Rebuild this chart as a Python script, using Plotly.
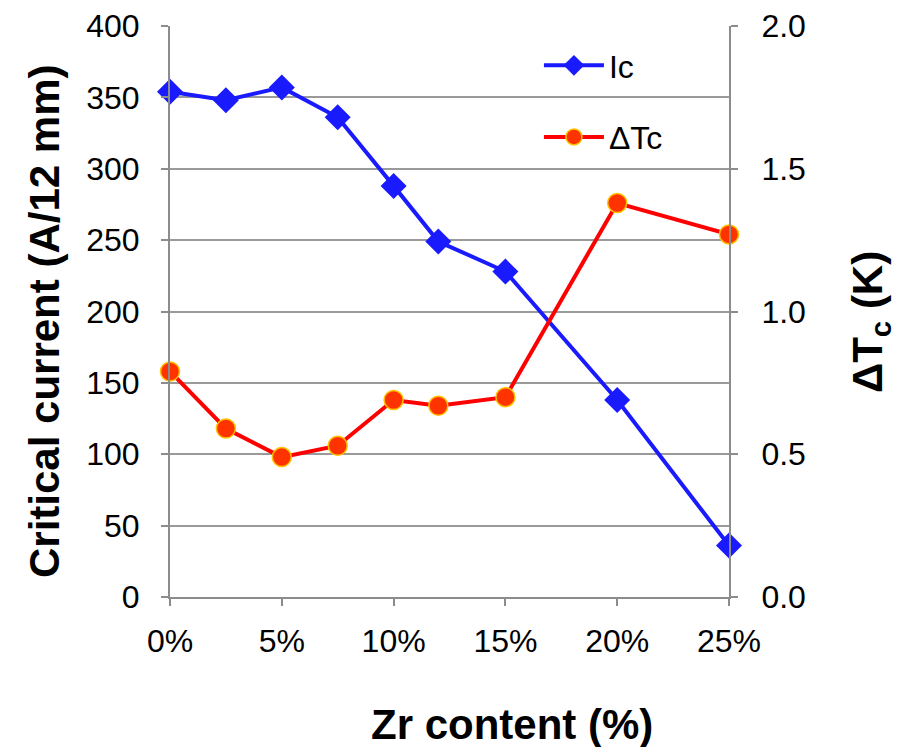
import plotly.graph_objects as go

zr_content = [0, 2.5, 5, 7.5, 10, 12, 15, 20, 25]
ic_values = [354, 348, 357, 336, 288, 249, 228, 138, 36]
dtc_values = [0.79, 0.59, 0.49, 0.53, 0.69, 0.67, 0.70, 1.38, 1.27]
x_ticks = [0, 5, 10, 15, 20, 25]
x_tick_labels = ["0%", "5%", "10%", "15%", "20%", "25%"]
y1_ticks = [0, 50, 100, 150, 200, 250, 300, 350, 400]
y2_ticks = [0, 0.5, 1.0, 1.5, 2.0]
y2_tick_labels = ["0.0", "0.5", "1.0", "1.5", "2.0"]

FONT = "Liberation Sans, Arial, sans-serif"
AXIS_GRAY = "#8c8c8c"
TICK_SIZE = 32
TITLE_SIZE = 42

fig = go.Figure()
fig.add_trace(go.Scatter(
    x=zr_content, y=ic_values, name="Ic", mode="lines+markers",
    line=dict(color="#1a1aff", width=4),
    marker=dict(symbol="diamond", size=20, color="#1a1aff"),
    legendgroup="a", cliponaxis=False,
))
fig.add_trace(go.Scatter(
    x=zr_content, y=dtc_values, name="ΔTc", mode="lines+markers", yaxis="y2",
    line=dict(color="#ff0000", width=4),
    marker=dict(symbol="circle", size=19, color="#ff3300",
                line=dict(color="#ffc000", width=1.5)),
    legendgroup="b", cliponaxis=False,
))

common = dict(showline=True, linecolor=AXIS_GRAY, linewidth=2,
              ticks="outside", ticklen=7, tickcolor=AXIS_GRAY, tickwidth=2,
              zeroline=False, automargin=False,
              tickfont=dict(size=TICK_SIZE, color="black"))

fig.update_layout(
    width=895, height=739,
    margin=dict(l=162, r=174, t=18, b=150),
    paper_bgcolor="white", plot_bgcolor="white",
    font=dict(family=FONT, size=TICK_SIZE, color="black"),
    showlegend=True,
    legend=dict(x=0.66, y=0.979, xanchor="left", yanchor="top",
                bgcolor="rgba(0,0,0,0)", tracegroupgap=27, itemwidth=60,
                font=dict(size=TICK_SIZE), traceorder="grouped"),
    xaxis=dict(range=[0, 25], tickvals=x_ticks, ticktext=x_tick_labels,
               showgrid=False, ticklabelstandoff=8, **common),
    yaxis=dict(range=[0, 400], tickvals=y1_ticks,
               showgrid=True, gridcolor="#9a9a9a", gridwidth=2, ticklabelstandoff=15,
               **common),
    yaxis2=dict(range=[0, 2.0], tickvals=y2_ticks, ticktext=y2_tick_labels,
                overlaying="y", side="right",
                showgrid=False, ticklabelstandoff=17, **common),
    annotations=[
        dict(text="<b>Zr content (%)</b>", xref="paper", yref="paper",
             x=0.612, y=-0.224, xanchor="center", yanchor="middle",
             showarrow=False, font=dict(size=TITLE_SIZE)),
        dict(text="<b>Critical current (A/12 mm)</b>", xref="paper", yref="paper",
             x=-0.2254, y=0.4816, xanchor="center", yanchor="middle", textangle=-90,
             showarrow=False, font=dict(size=TITLE_SIZE)),
        dict(text="<b>ΔT<sub>c</sub> (K)</b>", xref="paper", yref="paper",
             x=1.2522, y=0.4816, xanchor="center", yanchor="middle", textangle=-90,
             showarrow=False, font=dict(size=TITLE_SIZE)),
    ],
)

fig.write_html("out.html")
